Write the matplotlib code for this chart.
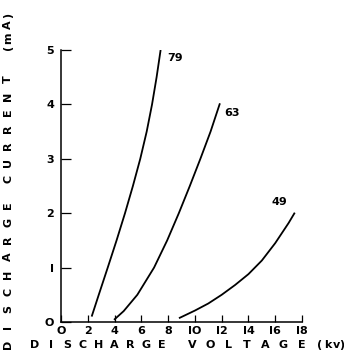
import numpy as np
import matplotlib.pyplot as plt

# discharge voltage (kV) vs discharge current (mA), three curves
v_79 = [2.29, 2.82, 3.49, 4.15, 4.78, 5.37, 5.92, 6.40, 6.80, 7.14, 7.44]
i_79 = [0.10, 0.50, 1.00, 1.50, 2.00, 2.50, 3.00, 3.50, 4.00, 4.50, 5.00]

v_63 = [3.96, 4.68, 5.70, 6.95, 7.93, 8.80, 9.62, 10.41, 11.17, 11.87]
i_63 = [0.04, 0.20, 0.50, 1.00, 1.50, 2.00, 2.50, 3.00, 3.50, 4.02]

v_49 = [8.81, 10.0, 11.0, 12.0, 13.0, 14.0, 15.0, 16.0, 17.0, 17.46]
i_49 = [0.07, 0.21, 0.34, 0.50, 0.68, 0.88, 1.13, 1.45, 1.82, 2.01]

curve_labels = ["79", "63", "49"]
x_ticks = [0, 2, 4, 6, 8, 10, 12, 14, 16, 18]
x_tick_labels = ["O", "2", "4", "6", "8", "IO", "I2", "I4", "I6", "I8"]
y_ticks = [0, 1, 2, 3, 4, 5]
y_tick_labels = ["O", "I", "2", "3", "4", "5"]

W, H = 344, 354
fig = plt.figure(figsize=(W / 100, H / 100), dpi=100)
ax = fig.add_axes([61 / W, 1 - 322 / H, (302 - 61) / W, (322 - 50) / H])

font = dict(family="DejaVu Sans", fontweight="bold", color="black")

for v, i in [(v_79, i_79), (v_63, i_63), (v_49, i_49)]:
    ax.plot(v, i, color="black", linewidth=1.3, solid_capstyle="butt",
            solid_joinstyle="round")

ax.text(7.9, 4.85, curve_labels[0], fontsize=8, ha="left", va="center", **font)
ax.text(12.2, 3.84, curve_labels[1], fontsize=8, ha="left", va="center", **font)
ax.text(15.7, 2.21, curve_labels[2], fontsize=8, ha="left", va="center", **font)

ax.set_xlim(0, 18)
ax.set_ylim(0, 5)
ax.spines["top"].set_visible(False)
ax.spines["right"].set_visible(False)
ax.spines["left"].set_linewidth(1.1)
ax.spines["bottom"].set_linewidth(1.1)
ax.set_xticks(x_ticks)
ax.set_xticklabels(x_tick_labels, fontsize=8, **font)
ax.set_yticks(y_ticks)
ax.set_yticklabels(y_tick_labels, fontsize=8, **font)
ax.tick_params(axis="x", direction="in", length=5, width=0.9, pad=3)
ax.tick_params(axis="y", direction="in", length=7, width=0.9, pad=5)


def put(px, py, s, rot=0, size=8):
    fig.text(px / W, 1 - py / H, s, rotation=rot, ha="center", va="center",
             fontsize=size, **font)


# x axis title, letter by letter
for k, ch in enumerate("DISCHARGE"):
    put(35 + 15.9 * k, 345, ch)
for k, ch in enumerate("VOLTAGE"):
    put(192 + 18.3 * k, 345, ch)
for px, ch in zip([320, 328, 336, 342], "(kv)"):
    put(px, 345, ch)

# y axis title, letter by letter
for k, ch in enumerate("DISCHARGE"):
    put(8, 344 - 17.4 * k, ch, rot=90)
for k, ch in enumerate("CURRENT"):
    put(8, 179 - 16.6 * k, ch, rot=90)
for py, ch in zip([47, 38, 25, 15], "(mA)"):
    put(8, py, ch, rot=90)

fig.savefig("out.png", dpi=100)
